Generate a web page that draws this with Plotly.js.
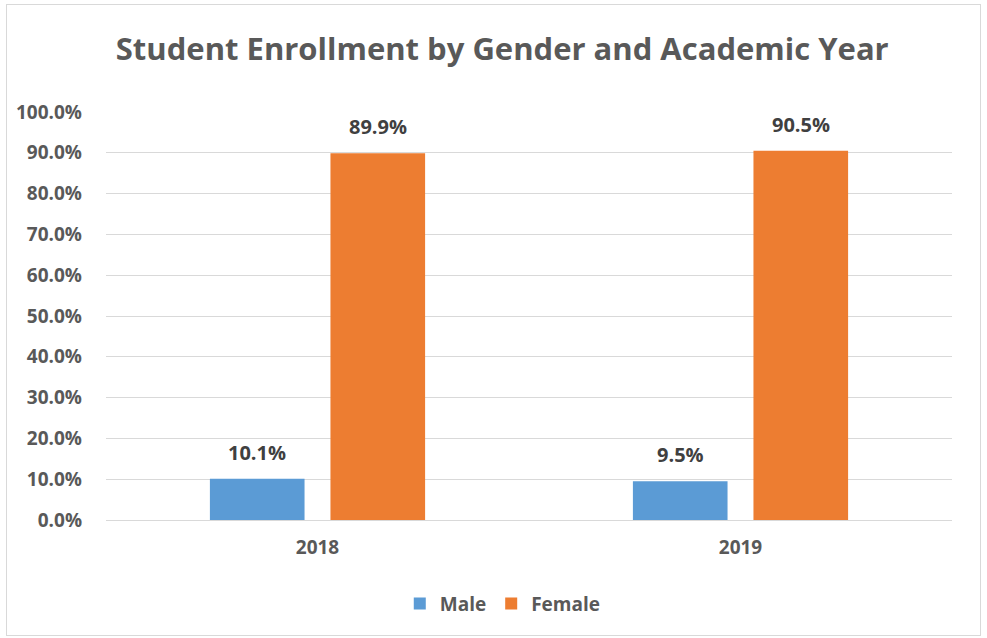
<!DOCTYPE html>
<html>
<head>
<meta charset="utf-8">
<script src="https://cdn.plot.ly/plotly-3.0.1.min.js"></script>
<style>
  html, body { margin: 0; padding: 0; background: #fff; }
  #frame { position: absolute; left: 6px; top: 4px; width: 973px; height: 630px; border: 1px solid #d9d9d9; }
  #chart { width: 973px; height: 630px; }
</style>
</head>
<body>
<div id="frame"><div id="chart"></div></div>
<script>
const years = ['2018', '2019'];
const maleValues = [0.101, 0.095];
const femaleValues = [0.899, 0.905];
const seriesNames = ['Male', 'Female'];
const yTickValues = [0, 0.1, 0.2, 0.3, 0.4, 0.5, 0.6, 0.7, 0.8, 0.9, 1.0];

const FONT = '"Open Sans", "Liberation Sans", sans-serif';
const labelFont = { family: FONT, size: 20, color: '#404040', weight: 'bold' };

const traces = [
  {
    type: 'bar', name: seriesNames[0], x: years, y: maleValues,
    marker: { color: '#5B9BD5' }, hoverinfo: 'none'
  },
  {
    type: 'bar', name: seriesNames[1], x: years, y: femaleValues,
    marker: { color: '#ED7D31' }, hoverinfo: 'none'
  }
];

// data labels above bars, built from the data arrays (x = category index)
const annotations = [];
[maleValues, femaleValues].forEach(function (vals, si) {
  vals.forEach(function (v, i) {
    annotations.push({
      x: i, y: v, xref: 'x', yref: 'y',
      xshift: si === 0 ? -60.5 : 60.5, yshift: 11,
      yanchor: 'bottom', showarrow: false,
      text: '<b>' + (v * 100).toFixed(1) + '%</b>',
      font: labelFont
    });
  });
});

const layout = {
  width: 973, height: 630,
  margin: { l: 99, r: 28, t: 107, b: 111 },
  paper_bgcolor: '#ffffff', plot_bgcolor: '#ffffff',
  font: { family: FONT, color: '#595959' },
  title: {
    text: '<b>Student Enrollment by Gender and Academic Year</b>',
    font: { family: FONT, size: 31, color: '#595959' },
    xref: 'container', x: 0.509, xanchor: 'center',
    yref: 'container', y: 0.93, yanchor: 'middle'
  },
  barmode: 'group', bargap: 0.43, bargroupgap: 0.215,
  xaxis: {
    type: 'category', range: [-0.5, 1.5], autorange: false,
    showgrid: false, showline: false, zeroline: false,
    ticks: '', ticklabelstandoff: 14,
    tickfont: { family: FONT, size: 19, color: '#595959', weight: 'bold' }
  },
  yaxis: {
    range: [0, 1], autorange: false, tickvals: yTickValues, tickformat: '.1%',
    showgrid: true, gridcolor: '#d9d9d9', gridwidth: 1,
    zeroline: true, zerolinecolor: '#d9d9d9', zerolinewidth: 1,
    showline: false, ticks: '', ticklabelstandoff: 23,
    tickfont: { family: FONT, size: 19, color: '#595959', weight: 'bold' }
  },
  annotations: annotations,
  showlegend: true,
  legend: {
    orientation: 'h', xref: 'paper', x: 0.469, xanchor: 'center',
    y: -0.205, yanchor: 'middle',
    font: { family: FONT, size: 19, color: '#595959', weight: 'bold' },
    itemsizing: 'constant', itemwidth: 30
  }
};

Plotly.newPlot('chart', traces, layout, { displayModeBar: false, staticPlot: true });
</script>
</body>
</html>
